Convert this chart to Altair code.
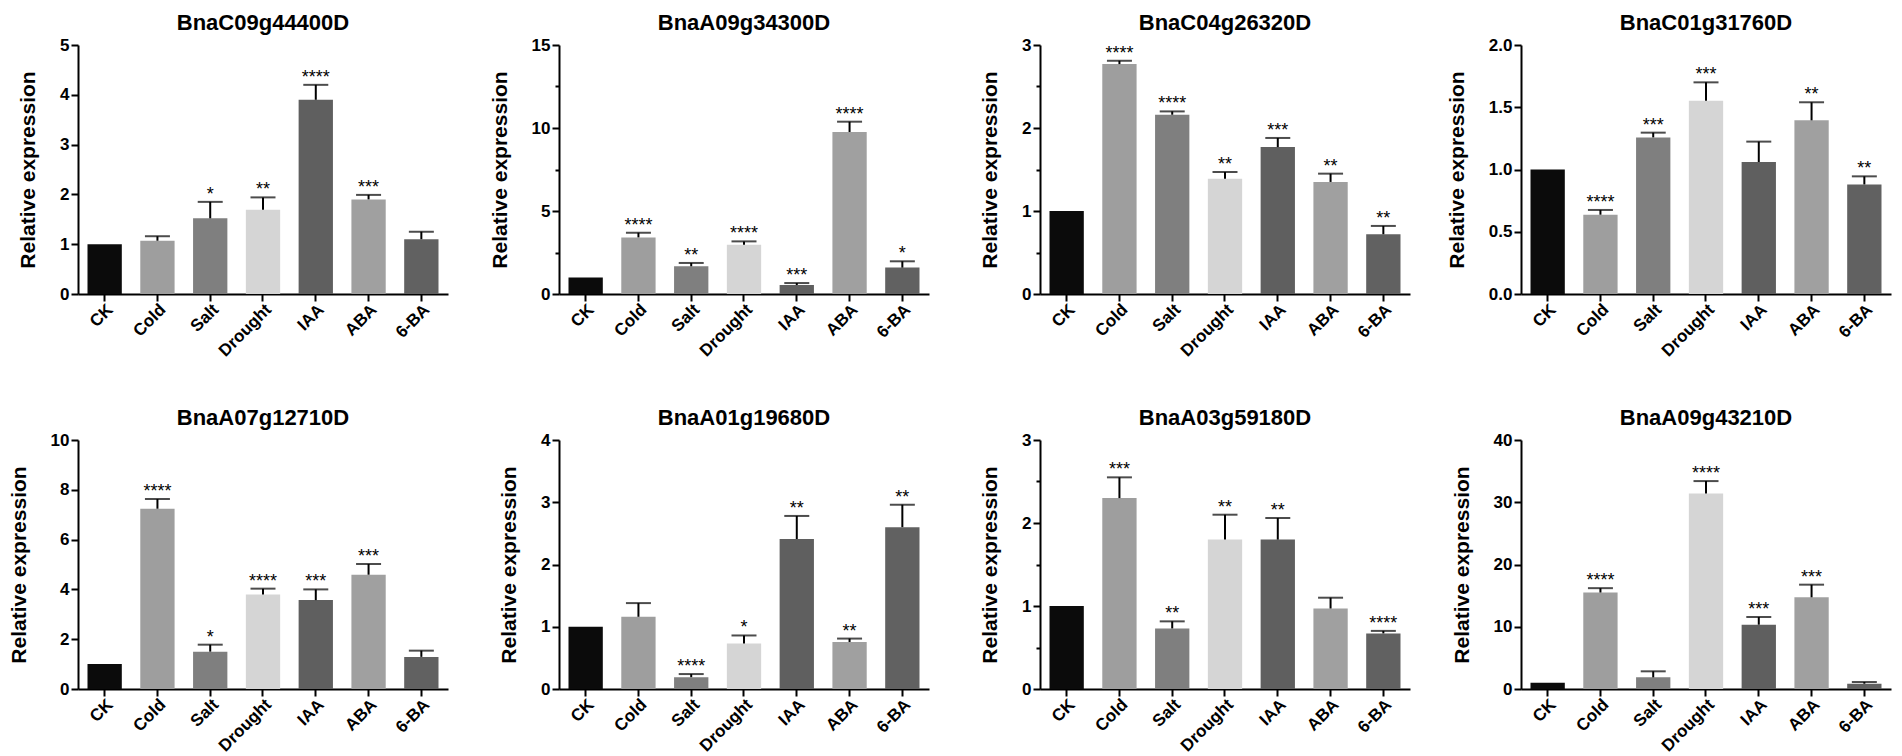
import altair as alt
import pandas as pd

conditions = ["CK", "Cold", "Salt", "Drought", "IAA", "ABA", "6-BA"]
bar_colors = ["#0b0b0b", "#9e9e9e", "#7f7f7f", "#d5d5d5", "#5f5f5f", "#a0a0a0", "#616161"]

genes = ["BnaC09g44400D", "BnaA09g34300D", "BnaC04g26320D", "BnaC01g31760D",
         "BnaA07g12710D", "BnaA01g19680D", "BnaA03g59180D", "BnaA09g43210D"]

means = [
    [1.0, 1.07, 1.52, 1.69, 3.90, 1.90, 1.10],
    [1.0, 3.41, 1.67, 2.97, 0.54, 9.76, 1.59],
    [1.0, 2.77, 2.16, 1.39, 1.77, 1.35, 0.72],
    [1.0, 0.637, 1.258, 1.553, 1.06, 1.395, 0.88],
    [1.0, 7.24, 1.50, 3.80, 3.57, 4.59, 1.29],
    [1.0, 1.16, 0.19, 0.73, 2.41, 0.755, 2.60],
    [1.0, 2.30, 0.73, 1.80, 1.80, 0.97, 0.67],
    [1.0, 15.5, 1.87, 31.4, 10.33, 14.73, 0.85],
]
error_tops = [
    [None, 1.16, 1.85, 1.94, 4.20, 1.99, 1.25],
    [None, 3.69, 1.87, 3.17, 0.66, 10.38, 1.97],
    [None, 2.81, 2.20, 1.47, 1.88, 1.45, 0.82],
    [None, 0.675, 1.296, 1.70, 1.224, 1.54, 0.945],
    [None, 7.63, 1.78, 4.03, 4.00, 5.02, 1.54],
    [None, 1.38, 0.24, 0.86, 2.78, 0.81, 2.96],
    [None, 2.55, 0.815, 2.10, 2.06, 1.10, 0.70],
    [None, 16.2, 2.84, 33.4, 11.57, 16.76, 1.12],
]
stars = [
    ["", "", "*", "**", "****", "***", ""],
    ["", "****", "**", "****", "***", "****", "*"],
    ["", "****", "****", "**", "***", "**", "**"],
    ["", "****", "***", "***", "", "**", "**"],
    ["", "****", "*", "****", "***", "***", ""],
    ["", "", "****", "*", "**", "**", "**"],
    ["", "***", "**", "**", "**", "", "****"],
    ["", "****", "", "****", "***", "***", ""],
]

y_max = [5, 15, 3, 2, 10, 4, 3, 40]
y_major = [1, 5, 1, 0.5, 2, 1, 1, 10]
y_minor = [None, 2.5, 0.5, 0.25, 1, 0.5, 0.5, 5]
y_fmt = ["d", "d", "d", ".1f", "d", "d", "d", "d"]

FONT = "Liberation Sans"
W, H = 370, 249


def panel(i):
    df = pd.DataFrame({
        "cond": conditions,
        "mean": means[i],
        "top": error_tops[i],
        "star": stars[i],
    })
    step = y_minor[i] if y_minor[i] else y_major[i]
    n = int(round(y_max[i] / step))
    vals = [round(k * step, 4) for k in range(n + 1)]
    M = y_major[i]
    is_minor = f"abs(datum.value/{M} - round(datum.value/{M})) > 0.01"
    yaxis = alt.Axis(
        values=vals,
        labelExpr=f"{is_minor} ? '' : format(datum.value, '{y_fmt[i]}')",
        tickSize={"condition": {"test": is_minor, "value": 4}, "value": 7},
        grid=False, domainColor="black", domainWidth=2, tickColor="black", tickWidth=2,
        labelFont=FONT, labelFontSize=17, labelFontWeight="bold", labelColor="black",
        labelPadding=2, title="Relative expression", titleFont=FONT, titleFontSize=21,
        titleFontWeight="bold", titleColor="black", titlePadding=21,
    )
    xaxis = alt.Axis(
        title=None, labelAngle=-45, labelAlign="right", labelBaseline="top",
        labelFont=FONT, labelFontSize=17, labelFontWeight="bold", labelColor="black",
        domainColor="black", domainWidth=2, tickColor="black", tickWidth=2, tickSize=7,
        labelPadding=0,
    )
    xscale = alt.Scale(domain=conditions, paddingInner=0.35, paddingOuter=0.18)
    yscale = alt.Scale(domain=[0, y_max[i]], nice=False)
    base = alt.Chart(df).encode(x=alt.X("cond:N", sort=conditions, scale=xscale, axis=xaxis))
    bars = base.mark_bar().encode(
        y=alt.Y("mean:Q", scale=yscale, axis=yaxis),
        color=alt.Color("cond:N", scale=alt.Scale(domain=conditions, range=bar_colors), legend=None),
    )
    err = base.transform_filter("isValid(datum.top)")
    rule = err.mark_rule(color="black", strokeWidth=2).encode(y="mean:Q", y2="top:Q")
    cap = err.mark_tick(color="black", thickness=2, size=25).encode(y="top:Q")
    txt = err.mark_text(baseline="bottom", dy=2, fontSize=18, font=FONT, color="black").encode(
        y="top:Q", text="star:N")
    return alt.layer(bars, rule, cap, txt).properties(
        width=W, height=H,
        title=alt.TitleParams(genes[i], font=FONT, fontSize=22, fontWeight="bold",
                              color="black", anchor="middle", frame="group", offset=1),
    )


chart = alt.concat(
    *[panel(i) for i in range(8)], columns=4,
    spacing={"row": 146, "column": 111}, bounds="flush",
).configure_view(stroke=None).properties(padding={"left": 0, "top": 4, "right": 2, "bottom": 2})

chart.save("out.html", embed_options={"renderer": "svg", "actions": False})
